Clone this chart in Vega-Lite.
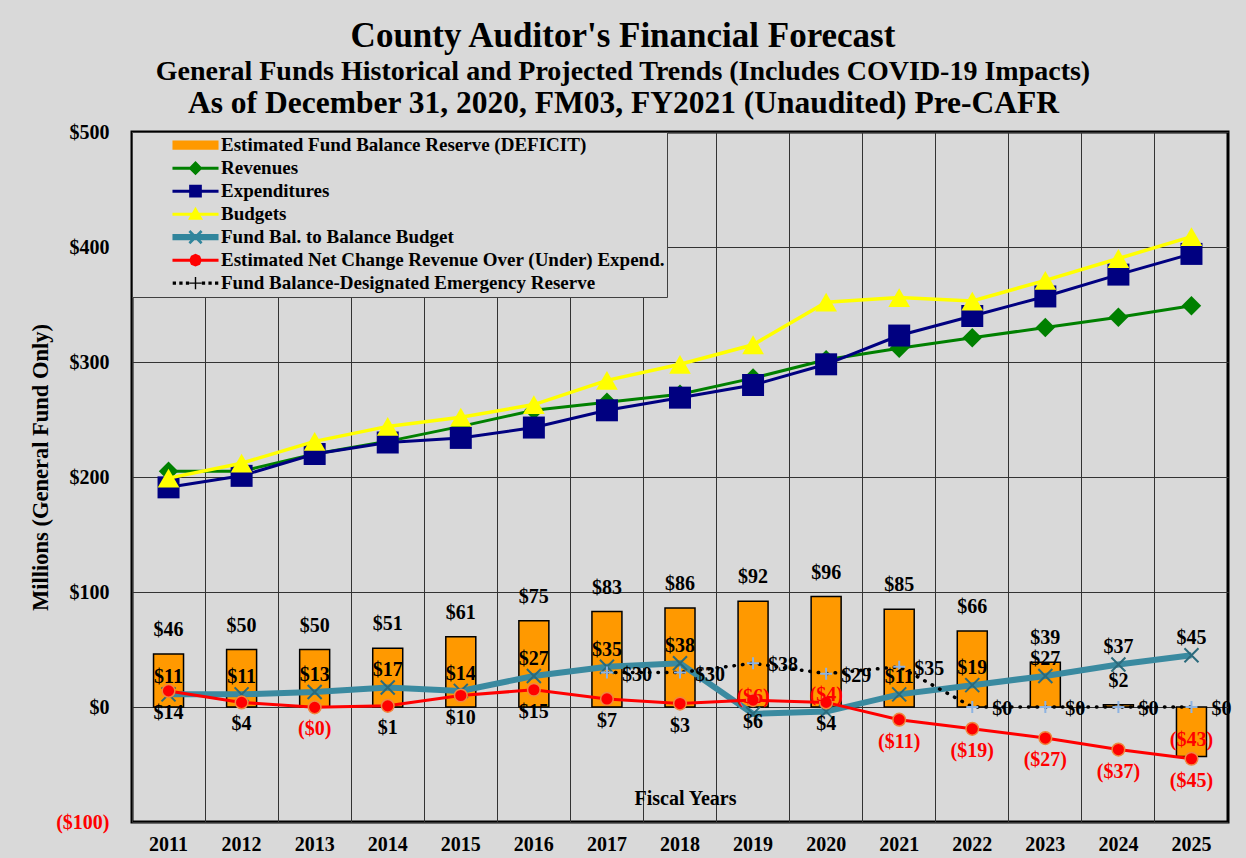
{
  "$schema": "https://vega.github.io/schema/vega-lite/v6.json",
  "width": 1096,
  "height": 690,
  "autosize": {"type": "none"},
  "padding": {"left": 132, "top": 132, "right": 18, "bottom": 36},
  "background": "#d9d9d9",
  "title": {
    "text": "County Auditor's Financial Forecast",
    "subtitle": "General Funds Historical and Projected Trends (Includes COVID-19 Impacts)",
    "font": "Liberation Serif",
    "subtitleFont": "Liberation Serif",
    "fontSize": 35,
    "subtitleFontSize": 28,
    "fontWeight": "bold",
    "subtitleFontWeight": "bold",
    "color": "black",
    "subtitleColor": "black",
    "anchor": "middle",
    "dx": -57,
    "offset": 2,
    "subtitlePadding": 4
  },
  "datasets": {
    "d": [
      {"year": "2011", "key": "reserve", "series": "Estimated Fund Balance Reserve (DEFICIT)", "value": 46, "label": "$46"},
      {"year": "2012", "key": "reserve", "series": "Estimated Fund Balance Reserve (DEFICIT)", "value": 50, "label": "$50"},
      {"year": "2013", "key": "reserve", "series": "Estimated Fund Balance Reserve (DEFICIT)", "value": 50, "label": "$50"},
      {"year": "2014", "key": "reserve", "series": "Estimated Fund Balance Reserve (DEFICIT)", "value": 51, "label": "$51"},
      {"year": "2015", "key": "reserve", "series": "Estimated Fund Balance Reserve (DEFICIT)", "value": 61, "label": "$61"},
      {"year": "2016", "key": "reserve", "series": "Estimated Fund Balance Reserve (DEFICIT)", "value": 75, "label": "$75"},
      {"year": "2017", "key": "reserve", "series": "Estimated Fund Balance Reserve (DEFICIT)", "value": 83, "label": "$83"},
      {"year": "2018", "key": "reserve", "series": "Estimated Fund Balance Reserve (DEFICIT)", "value": 86, "label": "$86"},
      {"year": "2019", "key": "reserve", "series": "Estimated Fund Balance Reserve (DEFICIT)", "value": 92, "label": "$92"},
      {"year": "2020", "key": "reserve", "series": "Estimated Fund Balance Reserve (DEFICIT)", "value": 96, "label": "$96"},
      {"year": "2021", "key": "reserve", "series": "Estimated Fund Balance Reserve (DEFICIT)", "value": 85, "label": "$85"},
      {"year": "2022", "key": "reserve", "series": "Estimated Fund Balance Reserve (DEFICIT)", "value": 66, "label": "$66"},
      {"year": "2023", "key": "reserve", "series": "Estimated Fund Balance Reserve (DEFICIT)", "value": 39, "label": "$39"},
      {"year": "2024", "key": "reserve", "series": "Estimated Fund Balance Reserve (DEFICIT)", "value": 2, "label": "$2"},
      {"year": "2025", "key": "reserve", "series": "Estimated Fund Balance Reserve (DEFICIT)", "value": -43, "label": "($43)"},

      {"year": "2011", "key": "rev", "value": 205},
      {"year": "2012", "key": "rev", "value": 205},
      {"year": "2013", "key": "rev", "value": 220},
      {"year": "2014", "key": "rev", "value": 231},
      {"year": "2015", "key": "rev", "value": 244},
      {"year": "2016", "key": "rev", "value": 258},
      {"year": "2017", "key": "rev", "value": 265},
      {"year": "2018", "key": "rev", "value": 272},
      {"year": "2019", "key": "rev", "value": 286},
      {"year": "2020", "key": "rev", "value": 302},
      {"year": "2021", "key": "rev", "value": 312},
      {"year": "2022", "key": "rev", "value": 321},
      {"year": "2023", "key": "rev", "value": 330},
      {"year": "2024", "key": "rev", "value": 339},
      {"year": "2025", "key": "rev", "value": 349},

      {"year": "2011", "key": "exp", "value": 191},
      {"year": "2012", "key": "exp", "value": 201},
      {"year": "2013", "key": "exp", "value": 220},
      {"year": "2014", "key": "exp", "value": 230},
      {"year": "2015", "key": "exp", "value": 234},
      {"year": "2016", "key": "exp", "value": 243},
      {"year": "2017", "key": "exp", "value": 258},
      {"year": "2018", "key": "exp", "value": 269},
      {"year": "2019", "key": "exp", "value": 280},
      {"year": "2020", "key": "exp", "value": 298},
      {"year": "2021", "key": "exp", "value": 323},
      {"year": "2022", "key": "exp", "value": 340},
      {"year": "2023", "key": "exp", "value": 357},
      {"year": "2024", "key": "exp", "value": 376},
      {"year": "2025", "key": "exp", "value": 394},

      {"year": "2011", "key": "bud", "value": 199},
      {"year": "2012", "key": "bud", "value": 212},
      {"year": "2013", "key": "bud", "value": 231},
      {"year": "2014", "key": "bud", "value": 244},
      {"year": "2015", "key": "bud", "value": 252},
      {"year": "2016", "key": "bud", "value": 263},
      {"year": "2017", "key": "bud", "value": 284},
      {"year": "2018", "key": "bud", "value": 298},
      {"year": "2019", "key": "bud", "value": 315},
      {"year": "2020", "key": "bud", "value": 352},
      {"year": "2021", "key": "bud", "value": 356},
      {"year": "2022", "key": "bud", "value": 353},
      {"year": "2023", "key": "bud", "value": 371},
      {"year": "2024", "key": "bud", "value": 390},
      {"year": "2025", "key": "bud", "value": 409},

      {"year": "2011", "key": "fbal", "value": 11, "label": "$11"},
      {"year": "2012", "key": "fbal", "value": 11, "label": "$11"},
      {"year": "2013", "key": "fbal", "value": 13, "label": "$13"},
      {"year": "2014", "key": "fbal", "value": 17, "label": "$17"},
      {"year": "2015", "key": "fbal", "value": 14, "label": "$14"},
      {"year": "2016", "key": "fbal", "value": 27, "label": "$27"},
      {"year": "2017", "key": "fbal", "value": 35, "label": "$35"},
      {"year": "2018", "key": "fbal", "value": 38, "label": "$38"},
      {"year": "2019", "key": "fbal", "value": -6, "label": "($6)"},
      {"year": "2020", "key": "fbal", "value": -4, "label": "($4)"},
      {"year": "2021", "key": "fbal", "value": 11, "label": "$11"},
      {"year": "2022", "key": "fbal", "value": 19, "label": "$19"},
      {"year": "2023", "key": "fbal", "value": 27, "label": "$27"},
      {"year": "2024", "key": "fbal", "value": 37, "label": "$37"},
      {"year": "2025", "key": "fbal", "value": 45, "label": "$45"},

      {"year": "2011", "key": "net", "value": 14, "label": "$14"},
      {"year": "2012", "key": "net", "value": 4, "label": "$4"},
      {"year": "2013", "key": "net", "value": -0.3, "label": "($0)"},
      {"year": "2014", "key": "net", "value": 1, "label": "$1"},
      {"year": "2015", "key": "net", "value": 10, "label": "$10"},
      {"year": "2016", "key": "net", "value": 15, "label": "$15"},
      {"year": "2017", "key": "net", "value": 7, "label": "$7"},
      {"year": "2018", "key": "net", "value": 3, "label": "$3"},
      {"year": "2019", "key": "net", "value": 6, "label": "$6"},
      {"year": "2020", "key": "net", "value": 4, "label": "$4"},
      {"year": "2021", "key": "net", "value": -11, "label": "($11)"},
      {"year": "2022", "key": "net", "value": -19, "label": "($19)"},
      {"year": "2023", "key": "net", "value": -27, "label": "($27)"},
      {"year": "2024", "key": "net", "value": -37, "label": "($37)"},
      {"year": "2025", "key": "net", "value": -45, "label": "($45)"},

      {"year": "2017", "key": "emer", "value": 30, "label": "$30"},
      {"year": "2018", "key": "emer", "value": 30, "label": "$30"},
      {"year": "2019", "key": "emer", "value": 38, "label": "$38"},
      {"year": "2020", "key": "emer", "value": 29, "label": "$29"},
      {"year": "2021", "key": "emer", "value": 35, "label": "$35"},
      {"year": "2022", "key": "emer", "value": 0, "label": "$0"},
      {"year": "2023", "key": "emer", "value": 0, "label": "$0"},
      {"year": "2024", "key": "emer", "value": 0, "label": "$0"},
      {"year": "2025", "key": "emer", "value": 0, "label": "$0"}
    ]
  },
  "data": {"name": "d"},
  "encoding": {
    "y": {
      "field": "value",
      "type": "quantitative",
      "scale": {"domain": [-100, 500], "nice": false},
      "axis": {
        "values": [-100, 0, 100, 200, 300, 400, 500],
        "labelExpr": "datum.value < 0 ? '($' + abs(datum.value) + ')' : '$' + datum.value",
        "labelColor": {"condition": {"test": "datum.value < 0", "value": "#ff0000"}, "value": "black"},
        "labelFont": "Liberation Serif",
        "labelFontWeight": "bold",
        "labelFontSize": 20,
        "labelPadding": 23,
        "ticks": false,
        "domain": false,
        "grid": true,
        "gridColor": "#333333",
        "gridWidth": 1,
        "title": "Millions (General  Fund Only)",
        "titleFont": "Liberation Serif",
        "titleFontWeight": "bold",
        "titleFontSize": 22.5,
        "titleColor": "black",
        "titleX": -92,
        "titleY": 335,
        "titleAngle": -90,
        "titleAlign": "center",
        "titleBaseline": "middle"
      }
    }
  },
  "layer": [
    {
      "transform": [{"filter": "datum.key === 'reserve'"}],
      "mark": {"type": "bar", "size": 30, "stroke": "black", "strokeWidth": 1.5},
      "encoding": {
        "x": {
          "field": "year",
          "type": "ordinal",
          "scale": {"paddingInner": 0, "paddingOuter": 0},
          "axis": {
            "orient": "top",
            "bandPosition": 0,
            "grid": true,
            "gridColor": "#333333",
            "gridWidth": 1,
            "labels": false,
            "ticks": false,
            "domain": false,
            "title": "As of December 31, 2020, FM03, FY2021 (Unaudited) Pre-CAFR",
            "titleFont": "Liberation Serif",
            "titleFontWeight": "bold",
            "titleFontSize": 31.5,
            "titleColor": "black",
            "titleX": 491,
            "titleY": -19.5,
            "titleAlign": "center",
            "titleBaseline": "alphabetic"
          }
        },
        "color": {
          "field": "series",
          "type": "nominal",
          "scale": {
            "domain": [
              "Estimated Fund Balance Reserve (DEFICIT)",
              "Revenues",
              "Expenditures",
              "Budgets",
              "Fund Bal. to Balance Budget",
              "Estimated Net Change Revenue Over (Under) Expend.",
              "Fund Balance-Designated Emergency Reserve"
            ],
            "range": ["#ff9900", "#008000", "#000080", "#ffff00", "#31859c", "#ff0000", "#000000"]
          }
        }
      }
    },
    {
      "transform": [{"filter": "datum.key === 'reserve'"}],
      "mark": {"type": "point", "filled": true, "opacity": 0, "size": 2209},
      "encoding": {
        "x": {"field": "year", "type": "ordinal", "axis": null},
        "color": {
          "field": "series",
          "type": "nominal",
          "legend": {
            "orient": "none",
            "legendX": 0,
            "legendY": 0,
            "title": null,
            "direction": "vertical",
            "fillColor": "#d9d9d9",
            "strokeColor": "#404040",
            "padding": 2,
            "clipHeight": 22.3,
            "rowPadding": 0,
            "symbolSize": 2209,
            "symbolOpacity": 1,
            "symbolStrokeWidth": 0,
            "symbolOffset": 38,
            "labelOffset": 2,
            "labelFont": "Liberation Serif",
            "labelFontWeight": "bold",
            "labelFontSize": 19,
            "labelColor": "black",
            "labelLimit": 600
          }
        },
        "shape": {
          "field": "series",
          "type": "nominal",
          "scale": {
            "domain": [
              "Estimated Fund Balance Reserve (DEFICIT)",
              "Revenues",
              "Expenditures",
              "Budgets",
              "Fund Bal. to Balance Budget",
              "Estimated Net Change Revenue Over (Under) Expend.",
              "Fund Balance-Designated Emergency Reserve"
            ],
            "range": [
              "M-0.98,-0.2H0.98V0.2H-0.98Z",
              "M-0.98,-0.064H0.98V0.064H-0.98Z M-0.3,0L0,-0.3L0.3,0L0,0.3Z",
              "M-0.98,-0.064H0.98V0.064H-0.98Z M-0.27,-0.27H0.27V0.27H-0.27Z",
              "M-0.98,-0.064H0.98V0.064H-0.98Z M0,-0.32L0.32,0.24H-0.32Z",
              "M-0.98,-0.13H0.98V0.13H-0.98Z M-0.3,-0.22L-0.22,-0.3L0.3,0.22L0.22,0.3Z M0.22,-0.3L0.3,-0.22L-0.22,0.3L-0.3,0.22Z",
              "M-0.98,-0.064H0.98V0.064H-0.98Z M-0.27,0L-0.191,-0.191L0,-0.27L0.191,-0.191L0.27,0L0.191,0.191L0,0.27L-0.191,0.191Z",
              "M-0.97,-0.07H-0.83V0.07H-0.97Z M-0.69,-0.07H-0.55V0.07H-0.69Z M-0.41,-0.07H-0.27V0.07H-0.41Z M0.27,-0.07H0.41V0.07H0.27Z M0.55,-0.07H0.69V0.07H0.55Z M0.83,-0.07H0.97V0.07H0.83Z M-0.26,-0.03H0.26V0.03H-0.26Z M-0.03,-0.26H0.03V0.26H-0.03Z"
            ]
          }
        }
      }
    },
    {
      "transform": [{"filter": "datum.key === 'rev'"}],
      "mark": {"type": "line", "color": "#008000", "strokeWidth": 3, "point": {"shape": "diamond", "filled": true, "size": 380, "color": "#008000"}},
      "encoding": {
        "x": {
          "field": "year",
          "type": "ordinal",
          "axis": {
            "orient": "bottom",
            "grid": false,
            "ticks": false,
            "domain": false,
            "labelAngle": 0,
            "labelFont": "Liberation Serif",
            "labelFontWeight": "bold",
            "labelFontSize": 20,
            "labelColor": "black",
            "labelPadding": 12,
            "title": "Fiscal Years",
            "titleFont": "Liberation Serif",
            "titleFontWeight": "bold",
            "titleFontSize": 20,
            "titleColor": "black",
            "titleX": 553,
            "titleY": -24,
            "titleAlign": "center",
            "titleBaseline": "middle"
          }
        }
      }
    },
    {
      "transform": [{"filter": "datum.key === 'exp'"}],
      "mark": {"type": "line", "color": "#000080", "strokeWidth": 3, "point": {"shape": "square", "filled": true, "size": 484, "color": "#000080"}},
      "encoding": {"x": {"field": "year", "type": "ordinal", "axis": null}}
    },
    {
      "transform": [{"filter": "datum.key === 'bud'"}],
      "mark": {"type": "line", "color": "#ffff00", "strokeWidth": 3.5, "point": {"shape": "triangle-up", "filled": true, "size": 470, "color": "#ffff00"}},
      "encoding": {"x": {"field": "year", "type": "ordinal", "axis": null}}
    },
    {
      "transform": [{"filter": "datum.key === 'fbal'"}],
      "mark": {"type": "line", "color": "#3a8aa0", "strokeWidth": 6, "point": {"shape": "M-1,-1L1,1M-1,1L1,-1", "filled": false, "size": 196, "stroke": "#2a6a7c", "strokeWidth": 2}},
      "encoding": {"x": {"field": "year", "type": "ordinal", "axis": null}}
    },
    {
      "transform": [{"filter": "datum.key === 'net'"}],
      "mark": {"type": "line", "color": "#ff0000", "strokeWidth": 3, "point": {"shape": "circle", "filled": true, "size": 160, "fill": "#ff0000", "stroke": "#f0883e", "strokeWidth": 1.5}},
      "encoding": {"x": {"field": "year", "type": "ordinal", "axis": null}}
    },
    {
      "transform": [{"filter": "datum.key === 'emer'"}],
      "mark": {"type": "line", "color": "black", "strokeWidth": 3.5, "strokeDash": [0.5, 8], "strokeCap": "round"},
      "encoding": {"x": {"field": "year", "type": "ordinal", "axis": null}}
    },
    {
      "transform": [{"filter": "datum.key === 'emer'"}],
      "mark": {"type": "point", "shape": "M-1,0L1,0M0,-1L0,1", "filled": false, "size": 144, "stroke": "#8db3e2", "strokeWidth": 2, "opacity": 1},
      "encoding": {"x": {"field": "year", "type": "ordinal", "axis": null}}
    },
    {
      "transform": [{"filter": "datum.key === 'reserve' && datum.value >= 0"}],
      "mark": {"type": "text", "dy": -24, "font": "Liberation Serif", "fontWeight": "bold", "fontSize": 20, "color": "black", "baseline": "middle"},
      "encoding": {"x": {"field": "year", "type": "ordinal", "axis": null}, "text": {"field": "label"}}
    },
    {
      "transform": [{"filter": "datum.key === 'reserve' && datum.value < 0"}],
      "mark": {"type": "text", "dy": -16, "font": "Liberation Serif", "fontWeight": "bold", "fontSize": 20, "color": "#ff0000", "baseline": "middle"},
      "encoding": {"x": {"field": "year", "type": "ordinal", "axis": null}, "text": {"field": "label"}}
    },
    {
      "transform": [{"filter": "datum.key === 'fbal'"}],
      "mark": {"type": "text", "dy": -17, "font": "Liberation Serif", "fontWeight": "bold", "fontSize": 20, "baseline": "middle"},
      "encoding": {
        "x": {"field": "year", "type": "ordinal", "axis": null},
        "text": {"field": "label"},
        "color": {"condition": {"test": "datum.value < 0", "value": "#ff0000"}, "value": "black"}
      }
    },
    {
      "transform": [{"filter": "datum.key === 'net'"}],
      "mark": {"type": "text", "dy": 22, "font": "Liberation Serif", "fontWeight": "bold", "fontSize": 20, "baseline": "middle"},
      "encoding": {
        "x": {"field": "year", "type": "ordinal", "axis": null},
        "text": {"field": "label"},
        "color": {"condition": {"test": "datum.value < 0", "value": "#ff0000"}, "value": "black"}
      }
    },
    {
      "transform": [{"filter": "datum.key === 'emer'"}],
      "mark": {"type": "text", "dx": 30, "dy": 2, "font": "Liberation Serif", "fontWeight": "bold", "fontSize": 20, "color": "black", "baseline": "middle"},
      "encoding": {"x": {"field": "year", "type": "ordinal", "axis": null}, "text": {"field": "label"}}
    }
  ],
  "resolve": {"axis": {"x": "independent"}},
  "config": {
    "view": {"fill": "#d9d9d9", "stroke": "black", "strokeWidth": 3},
    "font": "Liberation Serif"
  }
}
